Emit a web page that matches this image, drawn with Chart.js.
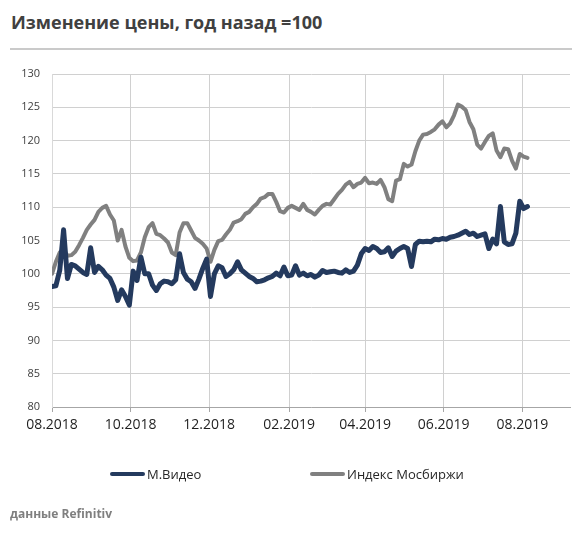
<!DOCTYPE html>
<html>
<head>
<meta charset="utf-8">
<script src="https://cdn.jsdelivr.net/npm/chart.js@4.4.0/dist/chart.umd.min.js"></script>
<style>
  html, body { margin: 0; padding: 0; background: #fff; }
  #wrap { position: relative; width: 581px; height: 533px; overflow: hidden; font-family: 'Open Sans', sans-serif; }
  #title { position: absolute; left: 11px; top: 10px; font-size: 18px; font-weight: bold; color: #404040; white-space: nowrap; }
  #rule { position: absolute; left: 10px; top: 48px; width: 562px; height: 2px; background: #cacaca; }
  #chart { position: absolute; left: 0; top: 0; }
  .leg { position: absolute; top: 465px; font-size: 13px; color: #262626; white-space: nowrap; display: flex; align-items: center; }
  .leg span.sw { display: inline-block; width: 35px; height: 4px; border-radius: 2px; margin-right: 2px; }
  #source { position: absolute; left: 10px; top: 505px; font-size: 12px; font-weight: bold; color: #7f7f7f; }
</style>
</head>
<body>
<div id="wrap">
  <div id="title">Изменение цены, год назад =100</div>
  <div id="rule"></div>
  <canvas id="chart" width="581" height="533"></canvas>
  <div id="legend"></div>
  <div id="source">данные Refinitiv</div>
</div>
<script>
// Ось X: подписи месяцев
const tickLabels = ['08.2018', '10.2018', '12.2018', '02.2019', '04.2019', '06.2019', '08.2019'];
const yTicks = [80, 85, 90, 95, 100, 105, 110, 115, 120, 125, 130];

// Наблюдения каждые 3 дня, начиная с 01.08.2018
const startDate = '2018-08-01';
const stepDays = 3;

// М.Видео, год назад = 100
const mvideo = [
  98.1, 98.2, 100.5, 106.6, 99.3, 101.4, 101.2, 100.7, 100.2, 99.9,
  103.9, 100.2, 101.1, 100.6, 99.8, 99.3, 98.0, 96.0, 97.6, 96.6,
  95.3, 100.4, 99.0, 102.5, 100.0, 100.0, 98.3, 97.5, 98.5, 98.9,
  98.8, 98.5, 99.1, 103.0, 100.2, 99.2, 98.8, 97.8, 99.2, 100.8,
  102.2, 96.6, 100.0, 101.2, 100.9, 99.6, 100.0, 100.6, 101.8, 100.6,
  100.1, 99.6, 99.3, 98.8, 98.9, 99.1, 99.4, 99.6, 100.1, 99.7,
  101.0, 99.7, 99.8, 101.2, 99.8, 100.1, 99.7, 99.9, 99.5, 99.8,
  100.5, 100.2, 100.3, 100.4, 100.2, 100.1, 100.6, 100.2, 100.4, 101.3,
  103.0, 103.8, 103.5, 104.1, 103.8, 103.2, 103.3, 103.9, 102.6, 103.4,
  103.8, 104.1, 103.8, 101.1, 104.4, 104.9, 104.8, 104.9, 104.8, 105.2,
  105.1, 105.3, 105.2, 105.5, 105.6, 105.8, 106.1, 106.4, 105.9, 106.1,
  105.6, 105.8, 106.0, 103.8, 105.2, 104.5, 110.1, 104.8, 104.4, 104.5,
  106.1, 110.9, 109.8, 110.1
];

// Индекс Мосбиржи, год назад = 100
const moex = [
  100.0, 101.8, 103.2, 103.6, 102.7, 102.8, 103.3, 104.3, 105.4, 106.6,
  107.4, 108.1, 109.3, 109.9, 110.2, 108.9, 108.0, 105.0, 106.6, 104.1,
  102.4, 101.9, 102.0, 103.2, 105.5, 107.0, 107.6, 106.0, 105.8, 105.3,
  104.7, 103.2, 102.8, 106.2, 107.6, 107.6, 106.5, 105.4, 105.0, 104.5,
  103.8, 101.8, 103.6, 104.9, 105.1, 105.9, 106.6, 107.7, 107.9, 108.2,
  109.0, 109.3, 110.0, 110.5, 111.3, 111.5, 112.0, 112.0, 110.8, 109.4,
  109.2, 109.9, 110.2, 109.9, 109.6, 110.5, 109.6, 109.3, 108.9, 109.6,
  110.2, 110.5, 110.4, 111.2, 112.0, 112.6, 113.4, 113.8, 113.0, 113.5,
  113.7, 114.4, 113.6, 113.7, 113.5, 114.1, 113.0, 111.2, 110.9, 114.0,
  114.2, 116.5, 116.1, 116.4, 118.4, 120.0, 120.9, 121.0, 121.3, 121.7,
  122.4, 122.9, 122.0, 122.6, 123.8, 125.4, 125.1, 124.6, 122.8, 121.7,
  119.4, 118.8, 119.8, 120.7, 121.1, 118.5, 117.5, 118.8, 118.7, 117.0,
  115.8, 118.0, 117.6, 117.4
];

const seriesNames = ['М.Видео', 'Индекс Мосбиржи'];
const seriesColors = ['#243a5e', '#808080'];

const DAY = 24 * 3600 * 1000;
const t0 = Date.parse(startDate);
// день от начала для подписи вида ММ.ГГГГ
const dayOf = label => {
  const [m, y] = label.split('.');
  return Math.round((Date.UTC(+y, +m - 1, 1) - t0) / DAY);
};
const tickDays = tickLabels.map(dayOf);
const toPoints = arr => arr.map((v, i) => ({ x: i * stepDays, y: v }));

const FONT = "'Open Sans', sans-serif";

const chart = new Chart(document.getElementById('chart').getContext('2d'), {
  type: 'line',
  data: {
    datasets: [
      {
        label: seriesNames[0],
        data: toPoints(mvideo),
        borderColor: seriesColors[0],
        backgroundColor: seriesColors[0],
        borderWidth: 5,
        pointRadius: 0,
        tension: 0,
        borderJoinStyle: 'round',
        borderCapStyle: 'round',
      },
      {
        label: seriesNames[1],
        data: toPoints(moex),
        borderColor: seriesColors[1],
        backgroundColor: seriesColors[1],
        borderWidth: 4,
        pointRadius: 0,
        tension: 0,
        borderJoinStyle: 'round',
        borderCapStyle: 'round',
      },
    ],
  },
  options: {
    responsive: false,
    animation: false,
    layout: { padding: { top: 74, right: 11, bottom: 96, left: 0 } },
    plugins: {
      legend: { display: false },
      tooltip: { enabled: false },
    },
    scales: {
      x: {
        type: 'linear',
        min: 0,
        max: 402,
        afterBuildTicks: axis => { axis.ticks = tickDays.map(v => ({ value: v })); },
        afterFit: axis => { axis.height = 30; },
        ticks: {
          autoSkip: false,
          maxRotation: 0,
          padding: 5,
          color: '#1f1f1f',
          font: { family: FONT, size: 14 },
          callback: (v, i) => tickLabels[i],
        },
        grid: {
          color: '#d0d0d0',
          borderDash: [2, 2],
          drawTicks: true,
          tickLength: 5,
          tickColor: '#a6a6a6',
          tickBorderDash: [],
        },
        border: { display: true, color: '#a6a6a6', width: 1 },
      },
      y: {
        min: 80,
        max: 130,
        afterBuildTicks: axis => { axis.ticks = yTicks.map(v => ({ value: v })); },
        afterFit: axis => { axis.width = 52; },
        ticks: {
          padding: 12,
          color: '#404040',
          font: { family: FONT, size: 11 },
        },
        grid: {
          color: '#d0d0d0',
          borderDash: [2, 2],
          drawTicks: false,
        },
        border: { display: true, color: '#d9d9d9', width: 1 },
      },
    },
  },
});

// Легенда снизу
const legendPos = [110, 310];
const legend = document.getElementById('legend');
chart.data.datasets.forEach((ds, i) => {
  const item = document.createElement('div');
  item.className = 'leg';
  item.style.left = legendPos[i] + 'px';
  item.innerHTML = '<span class="sw" style="background:' + ds.borderColor + '"></span>' + ds.label;
  legend.appendChild(item);
});
</script>
</body>
</html>
